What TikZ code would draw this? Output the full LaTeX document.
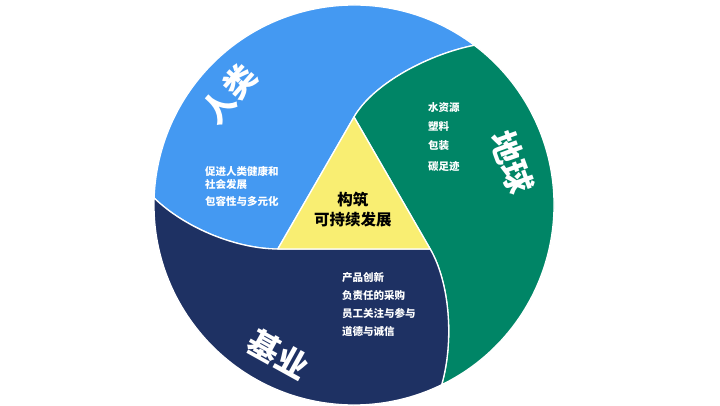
\documentclass[tikz,border=0pt]{standalone}
\usepackage{fontspec}
\newfontfamily\cjk{Noto Sans CJK SC}
\RequirePackage{xcolor}
\definecolor{humanblue}{HTML}{4499F2}
\definecolor{earthgreen}{HTML}{008566}
\definecolor{bizblue}{HTML}{1E3163}
\definecolor{coreyellow}{HTML}{F9EE72}

\tikzset{
	sector/.style = {draw=white, line width=1.3pt, line join=round},
	bigword/.style = {text=white, inner sep=0pt, font=\cjk\bfseries\fontsize{32}{32}\selectfont},
	smallword/.style = {text=white, inner sep=0pt, anchor=north west, align=left},
}

\begin{document}
\begin{tikzpicture}[x=1pt, y=1pt]
	    \useasboundingbox[fill=white] (-354,-200) rectangle (366,205);
	    
	    % three swirl sectors, one turned by 120 degrees each time
	    % (\a, \b: small shifts of where the two swirls meet the rim)
	    \foreach \r/\c/\a/\b in {0/humanblue/-2/3, -120/earthgreen/1/-2, -240/bizblue/3/1}
	    {\filldraw[sector, fill=\c] (\r+210:88) -- (\r+90:88)
	      .. controls (\r+80.7:124.2) and (\r+65.2+\a:169.3) .. (\r+55+\a:200)
	      arc[start angle=\r+55+\a, end angle=\r+175+\b, radius=200]
	      .. controls (\r+185.2+\b:169.3) and (\r+200.7:124.2) .. (\r+210:88) -- cycle ;
	    }
	    
	    % yellow triangle in the middle
	    \filldraw[sector, fill=coreyellow] (90:88) -- (210:88) -- (330:88) -- cycle ;
	    \node[inner sep=0pt, align=center, font=\cjk\bfseries\fontsize{15.5}{20}\selectfont]
	      (core) at (-1,-5) {构筑\\可持续发展};
	    
	    % big labels round the circle
	    \node[bigword, rotate=49] (human) at (-125,111) {人类};
	    \node[bigword, rotate=-70] (earth) at (158,43) {地球};
	    \node[bigword, rotate=-29] (business) at (-75,-149) {基业};
	    
	    % small lists
	    \node[smallword, font=\cjk\bfseries\fontsize{10.5}{13}\selectfont]
	      (humanlist) at (-149,38.5) {促进人类健康和\\社会发展\\[4pt]包容性与多元化};
	    \node[smallword, font=\cjk\bfseries\fontsize{10.5}{19}\selectfont]
	      (earthlist) at (74,102.5) {水资源\\塑料\\包装\\[2pt]碳足迹};
	    \node[smallword, font=\cjk\bfseries\fontsize{10.5}{18}\selectfont]
	      (bizlist) at (-12,-67.5) {产品创新\\负责任的采购\\员工关注与参与\\道德与诚信};
	  \end{tikzpicture}
\end{document}
